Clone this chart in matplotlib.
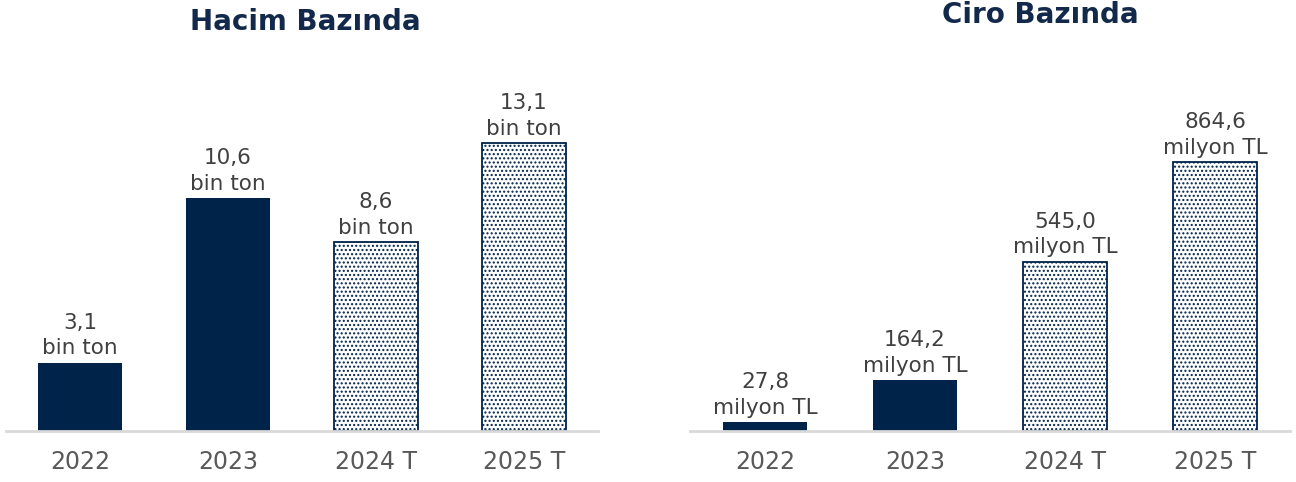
import matplotlib.pyplot as plt
import numpy as np

years = ["2022", "2023", "2024 T", "2025 T"]
hacim = [3.1, 10.6, 8.6, 13.1]
ciro = [27.8, 164.2, 545.0, 864.6]
hacim_labels = ["3,1\nbin ton", "10,6\nbin ton", "8,6\nbin ton", "13,1\nbin ton"]
ciro_labels = ["27,8\nmilyon TL", "164,2\nmilyon TL", "545,0\nmilyon TL", "864,6\nmilyon TL"]
forecast = [False, False, True, True]

navy = "#00234a"
plt.rcParams['hatch.color'] = navy
plt.rcParams['hatch.linewidth'] = 1.0

fig = plt.figure(figsize=(12.96, 4.82), dpi=100)
W, H = 1296, 482

def px_axes(x0, x1, ytop, ybot):
    return fig.add_axes([x0 / W, (H - ybot) / H, (x1 - x0) / W, (ybot - ytop) / H])

def draw(ax, vals, labels, width, ymax, pad):
    x = np.arange(len(vals))
    for i, v in enumerate(vals):
        if forecast[i]:
            ax.bar(x[i], v, width, color="white", edgecolor=navy, hatch="....", linewidth=1.3)
        else:
            ax.bar(x[i], v, width, color=navy, edgecolor=navy, linewidth=0)
        ax.text(x[i], v + pad, labels[i], ha="center", va="bottom", fontsize=15.5,
                color="#404040", linespacing=1.35)
    ax.set_xlim(-0.5, 3.5)
    ax.set_ylim(0, ymax)
    ax.set_xticks(x)
    ax.set_xticklabels(years, fontsize=17, color="#595959")
    ax.tick_params(axis="x", length=0, pad=14)
    ax.set_yticks([])
    for s in ["top", "left", "right"]:
        ax.spines[s].set_visible(False)
    ax.spines["bottom"].set_color("#d9d9d9")
    ax.spines["bottom"].set_linewidth(2)
    ax.set_facecolor("none")

ax1 = px_axes(6, 598, 60, 431)
draw(ax1, hacim, hacim_labels, 0.57, 371 / 21.98, 0.2)

ax2 = px_axes(690, 1290, 60, 431)
draw(ax2, ciro, ciro_labels, 0.56, 371 / 0.311, 14)

fig.text(305 / W, 1 - 22 / H, "Hacim Bazında", ha="center", va="center",
         fontsize=20, fontweight="bold", color="#13294b", family="DejaVu Sans")
fig.text(1040 / W, 1 - 15 / H, "Ciro Bazında", ha="center", va="center",
         fontsize=20, fontweight="bold", color="#13294b", family="DejaVu Sans")

fig.savefig("out.png", dpi=100)
